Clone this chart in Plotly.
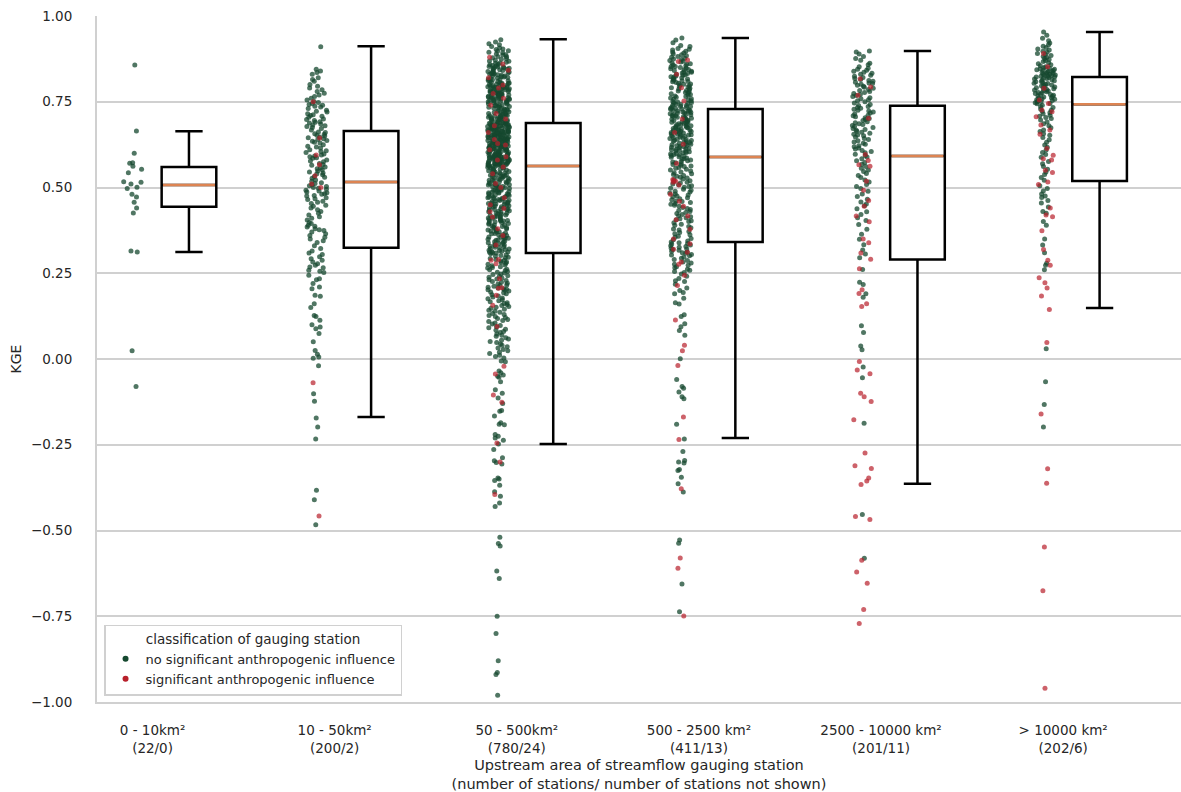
import plotly.graph_objects as go

# ---------------- data ----------------
AREA_LABELS = ["0 - 10km²", "10 - 50km²", "50 - 500km²", "500 - 2500 km²", "2500 - 10000 km²", "> 10000 km²"]
N_STATIONS = [22, 200, 780, 411, 201, 202]
N_NOT_SHOWN = [0, 2, 24, 13, 11, 6]

Y_TICKS = [-1.0, -0.75, -0.5, -0.25, 0.0, 0.25, 0.5, 0.75, 1.0]

# box statistics
BOX_Q1 = [0.444, 0.324, 0.309, 0.341, 0.290, 0.519]
BOX_MEDIAN = [0.507, 0.516, 0.563, 0.589, 0.592, 0.743]
BOX_Q3 = [0.560, 0.665, 0.688, 0.729, 0.738, 0.822]
BOX_LOW = [0.312, -0.169, -0.248, -0.230, -0.364, 0.149]
BOX_HIGH = [0.664, 0.912, 0.932, 0.936, 0.898, 0.953]

# KGE of individual stations (no significant anthropogenic influence)
KGE_NO_1 = [0.857, 0.665, 0.600, 0.572, 0.571, 0.562, 0.553, 0.543, 0.517, 0.515, 0.510, 0.501,
            0.497, 0.480, 0.472, 0.457, 0.440, 0.426, 0.315, 0.312, 0.024, -0.080]

KGE_NO_2 = [0.910,
            0.845, 0.840, 0.835, 0.830, 0.820, 0.815, 0.810, 0.800,
            0.795, 0.790, 0.785, 0.780, 0.775, 0.770, 0.765, 0.760, 0.755, 0.751,
            0.748, 0.745, 0.742, 0.740, 0.737, 0.735, 0.730, 0.725, 0.722, 0.720, 0.715, 0.712, 0.710, 0.708, 0.705, 0.700,
            0.698, 0.695, 0.692, 0.690, 0.688, 0.685, 0.682, 0.680, 0.678, 0.675, 0.672, 0.668,
            0.662, 0.660, 0.657, 0.655, 0.652, 0.650, 0.647, 0.645, 0.642, 0.640, 0.637, 0.635, 0.632, 0.630, 0.625, 0.620,
            0.618, 0.615, 0.610, 0.607, 0.605, 0.602,
            0.598, 0.595, 0.592, 0.590, 0.587, 0.585, 0.580, 0.577, 0.575, 0.570, 0.567, 0.565, 0.560, 0.557, 0.555, 0.552,
            0.548, 0.545, 0.542, 0.540, 0.537, 0.532, 0.530, 0.527, 0.522, 0.518,
            0.514, 0.512, 0.508, 0.505, 0.503, 0.500, 0.498, 0.495, 0.492, 0.490, 0.487, 0.485, 0.482, 0.480, 0.477, 0.475,
            0.470, 0.467, 0.465, 0.460, 0.457, 0.453,
            0.448, 0.445, 0.440, 0.435, 0.430, 0.425, 0.420, 0.415, 0.410, 0.405,
            0.398, 0.395, 0.390, 0.387, 0.385, 0.380, 0.377, 0.375, 0.370, 0.365, 0.360, 0.355, 0.350, 0.345, 0.340, 0.330,
            0.322, 0.315, 0.309, 0.305, 0.298, 0.292, 0.288, 0.283, 0.278, 0.273, 0.268, 0.266, 0.259, 0.256, 0.252,
            0.244, 0.234, 0.231, 0.220, 0.210, 0.205,
            0.186, 0.183, 0.161, 0.150, 0.127, 0.124, 0.113, 0.100,
            0.093, 0.088, 0.074, 0.050, 0.025, 0.014, 0.006, 0.002,
            -0.020, -0.101, -0.123, -0.172, -0.198, -0.233, -0.383, -0.410, -0.483]

KGE_NO_3 = [0.931, 0.924, 0.919, 0.916, 0.911, 0.907, 0.904, 0.902,
            0.899, 0.897, 0.894, 0.893, 0.889, 0.887, 0.886, 0.882, 0.881, 0.878, 0.876, 0.874, 0.871, 0.869, 0.868,
            0.865, 0.863, 0.862, 0.859, 0.858, 0.856, 0.855, 0.853, 0.852, 0.851, 0.850,
            0.849, 0.848, 0.847, 0.845, 0.844, 0.843, 0.841, 0.840, 0.838, 0.837, 0.836, 0.834, 0.833, 0.831, 0.830,
            0.829, 0.827, 0.826, 0.825, 0.823, 0.822, 0.821, 0.819, 0.818, 0.816, 0.815, 0.814, 0.812, 0.811, 0.810,
            0.809, 0.807, 0.806, 0.805, 0.804, 0.803, 0.802, 0.801, 0.800, 0.832,
            0.799, 0.798, 0.797, 0.796, 0.795, 0.794, 0.793, 0.792, 0.791, 0.790, 0.789, 0.788, 0.787, 0.786, 0.785,
            0.784, 0.783, 0.782, 0.781, 0.780, 0.779, 0.778, 0.777, 0.776, 0.775, 0.774, 0.773, 0.772, 0.771, 0.770,
            0.769, 0.768, 0.767, 0.766, 0.765, 0.764, 0.763, 0.762, 0.761, 0.760, 0.759, 0.758, 0.757, 0.756, 0.755,
            0.754, 0.753, 0.752, 0.751, 0.750, 0.792, 0.781, 0.774, 0.767, 0.758,
            0.749, 0.748, 0.746, 0.745, 0.744, 0.743, 0.741, 0.740, 0.739, 0.738, 0.736, 0.735, 0.734, 0.733, 0.731,
            0.730, 0.729, 0.728, 0.727, 0.725, 0.724, 0.723, 0.722, 0.721, 0.719, 0.718, 0.717, 0.716, 0.715, 0.714,
            0.712, 0.711, 0.710, 0.709, 0.708, 0.707, 0.706, 0.705, 0.704, 0.703, 0.702, 0.701, 0.700, 0.699, 0.698,
            0.697, 0.696, 0.695, 0.694, 0.693, 0.692, 0.691, 0.690, 0.689, 0.688,
            0.687, 0.687, 0.686, 0.685, 0.685, 0.684, 0.683, 0.683, 0.682, 0.681, 0.680, 0.680, 0.679, 0.678, 0.677,
            0.677, 0.676, 0.675, 0.674, 0.674, 0.673, 0.672, 0.671, 0.671, 0.670, 0.669, 0.668, 0.668, 0.667, 0.666,
            0.665, 0.665, 0.664, 0.663, 0.662, 0.662, 0.661, 0.660, 0.659, 0.659, 0.658, 0.657, 0.656, 0.656, 0.655,
            0.654, 0.653, 0.653, 0.652, 0.651, 0.650, 0.650, 0.669, 0.676, 0.681, 0.663, 0.658, 0.654, 0.672, 0.684,
            0.649, 0.648, 0.648, 0.647, 0.646, 0.645, 0.645, 0.644, 0.643, 0.642, 0.642, 0.641, 0.640, 0.639, 0.639,
            0.638, 0.637, 0.636, 0.636, 0.635, 0.634, 0.633, 0.633, 0.632, 0.631, 0.630, 0.630, 0.629, 0.628, 0.627,
            0.627, 0.626, 0.625, 0.624, 0.624, 0.623, 0.622, 0.621, 0.621, 0.620, 0.619, 0.618, 0.618, 0.617, 0.616,
            0.615, 0.615, 0.614, 0.613, 0.612, 0.612, 0.611, 0.610, 0.609, 0.609, 0.608, 0.607, 0.606, 0.606, 0.605,
            0.604, 0.603, 0.603, 0.602, 0.601, 0.600, 0.600, 0.617, 0.628, 0.637, 0.611, 0.644,
            0.599, 0.598, 0.598, 0.597, 0.596, 0.596, 0.595, 0.594, 0.594, 0.593, 0.592, 0.592, 0.591, 0.590, 0.590,
            0.589, 0.588, 0.588, 0.587, 0.586, 0.586, 0.585, 0.584, 0.584, 0.583, 0.582, 0.582, 0.581, 0.580, 0.580,
            0.579, 0.578, 0.578, 0.577, 0.576, 0.576, 0.575, 0.574, 0.574, 0.573, 0.572, 0.572, 0.571, 0.570, 0.570,
            0.569, 0.568, 0.568, 0.567, 0.566, 0.566, 0.565, 0.564, 0.564, 0.563,
            0.562, 0.561, 0.559, 0.558, 0.557, 0.556, 0.554, 0.553, 0.552, 0.551, 0.549, 0.548, 0.547, 0.546, 0.544,
            0.543, 0.542, 0.541, 0.539, 0.538, 0.537, 0.536, 0.534, 0.533, 0.532, 0.531, 0.529, 0.528, 0.527, 0.526,
            0.524, 0.523, 0.522, 0.521, 0.519, 0.518, 0.517, 0.516, 0.514, 0.513, 0.512, 0.511, 0.509, 0.508, 0.507,
            0.506, 0.504, 0.503, 0.502, 0.501,
            0.499, 0.497, 0.496, 0.495, 0.493, 0.492, 0.491, 0.489, 0.488, 0.487, 0.485, 0.484, 0.482, 0.481, 0.480,
            0.478, 0.477, 0.476, 0.474, 0.473, 0.472, 0.470, 0.469, 0.467, 0.466, 0.465, 0.463, 0.462, 0.461, 0.459,
            0.458, 0.457, 0.455, 0.454, 0.453, 0.452, 0.451, 0.450, 0.486, 0.471,
            0.449, 0.447, 0.446, 0.444, 0.443, 0.441, 0.440, 0.438, 0.437, 0.435, 0.434, 0.432, 0.431, 0.429, 0.428,
            0.426, 0.425, 0.423, 0.422, 0.420, 0.419, 0.417, 0.416, 0.414, 0.413, 0.411, 0.410, 0.408, 0.407, 0.405,
            0.404, 0.403, 0.402, 0.401, 0.400, 0.436,
            0.398, 0.396, 0.395, 0.393, 0.391, 0.390, 0.388, 0.386, 0.385, 0.383, 0.381, 0.380, 0.378, 0.376, 0.375,
            0.373, 0.371, 0.370, 0.368, 0.366, 0.365, 0.363, 0.361, 0.360, 0.358, 0.356, 0.355, 0.353, 0.352, 0.351,
            0.349, 0.347, 0.346, 0.344, 0.342, 0.341, 0.339, 0.337, 0.336, 0.334, 0.332, 0.331, 0.329, 0.327, 0.326,
            0.324, 0.322, 0.321, 0.319, 0.317, 0.316, 0.314, 0.313, 0.312, 0.311, 0.310, 0.309,
            0.307, 0.304, 0.302, 0.300, 0.297, 0.295, 0.293, 0.290, 0.288, 0.286, 0.283, 0.281, 0.279, 0.276, 0.274,
            0.272, 0.269, 0.267, 0.265, 0.262, 0.260, 0.258, 0.255, 0.253, 0.251,
            0.248, 0.246, 0.243, 0.241, 0.238, 0.236, 0.233, 0.231, 0.229, 0.226, 0.224, 0.221, 0.219, 0.216, 0.214,
            0.212, 0.209, 0.207, 0.205, 0.203, 0.202, 0.201,
            0.198, 0.195, 0.193, 0.190, 0.187, 0.184, 0.181, 0.178, 0.176, 0.173, 0.170, 0.167, 0.164, 0.162, 0.159,
            0.156, 0.153, 0.151,
            0.148, 0.145, 0.142, 0.139, 0.136, 0.133, 0.130, 0.127, 0.124, 0.121, 0.118, 0.115, 0.112, 0.109, 0.105, 0.102,
            0.098, 0.094, 0.091, 0.087, 0.084, 0.080, 0.077, 0.073, 0.069, 0.066, 0.062, 0.058, 0.055, 0.051,
            0.048, 0.044, 0.040, 0.036, 0.032, 0.028, 0.024, 0.020, 0.016, 0.011, 0.007, 0.003,
            -0.006, -0.008, -0.035, -0.040, -0.047, -0.050, -0.053, -0.066, -0.090, -0.100, -0.114, -0.130, -0.150,
            -0.152, -0.166, -0.186, -0.190, -0.192, -0.220, -0.225, -0.230, -0.237, -0.248, -0.264, -0.288, -0.297,
            -0.302, -0.306, -0.347, -0.350, -0.354, -0.368, -0.387, -0.400, -0.420, -0.430, -0.520, -0.538, -0.545,
            -0.618, -0.640, -0.750, -0.800, -0.880, -0.914, -0.920, -0.980]

KGE_NO_4 = [0.936, 0.930, 0.922, 0.914, 0.911, 0.905, 0.903, 0.901,
            0.897, 0.894, 0.892, 0.889, 0.887, 0.884, 0.882, 0.880, 0.877, 0.875, 0.873, 0.870, 0.868, 0.866, 0.863,
            0.861, 0.859, 0.857, 0.855, 0.853, 0.852, 0.850,
            0.848, 0.846, 0.844, 0.843, 0.841, 0.839, 0.837, 0.836, 0.834, 0.832, 0.830, 0.829, 0.827, 0.825, 0.823,
            0.822, 0.820, 0.818, 0.816, 0.815, 0.813, 0.811, 0.809, 0.808, 0.806, 0.804, 0.802, 0.801,
            0.799, 0.797, 0.795, 0.793, 0.791, 0.789, 0.787, 0.785, 0.783, 0.781, 0.779, 0.777, 0.775, 0.773, 0.771,
            0.769, 0.767, 0.765, 0.763, 0.761, 0.759, 0.757, 0.755, 0.753, 0.751,
            0.749, 0.748, 0.746, 0.745, 0.743, 0.742, 0.740, 0.739, 0.737, 0.736, 0.734, 0.733, 0.731, 0.730, 0.729,
            0.728, 0.727, 0.725, 0.724, 0.723, 0.722, 0.720, 0.719, 0.718, 0.717, 0.715, 0.714, 0.713, 0.712, 0.710,
            0.709, 0.708, 0.706, 0.705, 0.704, 0.702, 0.701,
            0.699, 0.698, 0.696, 0.695, 0.694, 0.692, 0.691, 0.690, 0.688, 0.687, 0.686, 0.684, 0.683, 0.682, 0.680,
            0.679, 0.678, 0.676, 0.675, 0.674, 0.672, 0.671, 0.670, 0.668, 0.667, 0.666, 0.664, 0.663, 0.662, 0.660,
            0.659, 0.658, 0.656, 0.655, 0.654, 0.653, 0.652, 0.651,
            0.649, 0.647, 0.646, 0.644, 0.643, 0.641, 0.640, 0.638, 0.637, 0.635, 0.634, 0.632, 0.631, 0.629, 0.628,
            0.626, 0.625, 0.623, 0.622, 0.620, 0.619, 0.617, 0.616, 0.614, 0.613, 0.611, 0.610, 0.608, 0.607, 0.605,
            0.604, 0.602, 0.601, 0.599, 0.598, 0.596, 0.595, 0.593, 0.591, 0.590,
            0.588, 0.586, 0.584, 0.582, 0.580, 0.578, 0.576, 0.574, 0.572, 0.569, 0.567, 0.565, 0.563, 0.561, 0.558,
            0.556, 0.553, 0.551,
            0.548, 0.545, 0.543, 0.540, 0.538, 0.535, 0.533, 0.530, 0.528, 0.525, 0.523, 0.520, 0.518, 0.515, 0.513,
            0.510, 0.508, 0.505, 0.503, 0.501,
            0.498, 0.495, 0.492, 0.489, 0.487, 0.484, 0.481, 0.478, 0.475, 0.473, 0.470, 0.467, 0.464, 0.461, 0.459,
            0.456, 0.453, 0.451,
            0.448, 0.445, 0.442, 0.439, 0.436, 0.433, 0.430, 0.427, 0.424, 0.421, 0.418, 0.415, 0.412, 0.409, 0.406,
            0.403, 0.401,
            0.397, 0.393, 0.390, 0.386, 0.383, 0.379, 0.376, 0.372, 0.369, 0.365, 0.362, 0.358, 0.355, 0.351, 0.348,
            0.344, 0.341,
            0.339, 0.337, 0.335, 0.332, 0.330, 0.328, 0.326, 0.323, 0.321, 0.319, 0.317, 0.314, 0.312, 0.310, 0.308,
            0.305, 0.303, 0.301,
            0.297, 0.294, 0.290, 0.287, 0.283, 0.280, 0.276, 0.273, 0.269, 0.266, 0.262, 0.259, 0.255, 0.252,
            0.248, 0.241, 0.235, 0.226, 0.218, 0.207,
            0.228, 0.200, 0.194, 0.190, 0.177, 0.164, 0.160, 0.129, 0.124, 0.103, 0.094, 0.083, 0.069, 0.001,
            -0.060, -0.080, -0.085, -0.096, -0.110, -0.116, -0.190, -0.233, -0.270, -0.296, -0.300, -0.303,
            -0.322, -0.325, -0.345, -0.364, -0.388, -0.528, -0.537, -0.656, -0.737]

KGE_NO_5 = [0.898, 0.895, 0.889, 0.882, 0.876, 0.871, 0.862, 0.858, 0.852,
            0.848, 0.845, 0.842, 0.839, 0.836, 0.833, 0.830, 0.827, 0.824, 0.821, 0.818, 0.815, 0.812, 0.810, 0.807,
            0.805, 0.803, 0.801,
            0.798, 0.795, 0.792, 0.789, 0.786, 0.783, 0.780, 0.777, 0.774, 0.771, 0.768, 0.765, 0.762, 0.759, 0.756,
            0.753, 0.750, 0.746, 0.742, 0.739,
            0.736, 0.733, 0.731, 0.728, 0.725, 0.723, 0.720, 0.717, 0.714, 0.711, 0.709, 0.706, 0.703, 0.701,
            0.698, 0.695, 0.692, 0.689, 0.686, 0.684, 0.681, 0.678, 0.675, 0.672, 0.669, 0.667, 0.664, 0.661, 0.658,
            0.655, 0.653, 0.651,
            0.647, 0.643, 0.640, 0.636, 0.633, 0.629, 0.626, 0.622, 0.619, 0.615, 0.612, 0.608, 0.605, 0.601, 0.597, 0.593,
            0.589, 0.584, 0.578, 0.573, 0.568, 0.561, 0.556, 0.551,
            0.547, 0.541, 0.535, 0.529, 0.522, 0.516, 0.509, 0.503,
            0.497, 0.489, 0.481, 0.474, 0.466, 0.458, 0.452,
            0.447, 0.438, 0.429, 0.421, 0.412, 0.404,
            0.392, 0.378, 0.364, 0.349, 0.333, 0.318, 0.306, 0.295,
            0.261, 0.224, 0.217, 0.190, 0.180, 0.097, 0.077, 0.038, 0.027, -0.023, -0.055, -0.187, -0.453, -0.581]

KGE_NO_6 = [0.953, 0.944, 0.935, 0.928, 0.921, 0.916, 0.912, 0.908, 0.904, 0.901,
            0.897, 0.894, 0.891, 0.888, 0.885, 0.882, 0.879, 0.876, 0.873, 0.870, 0.867, 0.864, 0.861, 0.858, 0.855, 0.852,
            0.849, 0.848, 0.846, 0.845, 0.843, 0.842, 0.841, 0.839, 0.838, 0.836, 0.835, 0.834, 0.832, 0.831, 0.830,
            0.828, 0.827, 0.826, 0.825, 0.824, 0.823, 0.822,
            0.821, 0.819, 0.818, 0.816, 0.814, 0.813, 0.811, 0.809, 0.808, 0.806, 0.804, 0.803, 0.801, 0.799, 0.798,
            0.796, 0.794, 0.793, 0.791, 0.789, 0.788, 0.786, 0.784, 0.782, 0.781,
            0.779, 0.777, 0.776, 0.774, 0.772, 0.771, 0.769, 0.767, 0.766, 0.764, 0.762, 0.761, 0.759, 0.757, 0.756,
            0.754, 0.752, 0.751, 0.749, 0.747, 0.745, 0.744,
            0.740, 0.736, 0.733, 0.729, 0.725, 0.722, 0.718, 0.715, 0.711, 0.708, 0.704, 0.701,
            0.697, 0.691, 0.686, 0.680, 0.674, 0.668, 0.663, 0.657, 0.652,
            0.646, 0.639, 0.632, 0.624, 0.617, 0.609, 0.602,
            0.596, 0.588, 0.576, 0.569, 0.561, 0.553, 0.545, 0.538, 0.529, 0.521,
            0.505, 0.497, 0.490, 0.481, 0.475, 0.471, 0.462, 0.455, 0.443, 0.430, 0.425, 0.401, 0.390, 0.350,
            0.332, 0.310, 0.279, 0.273, 0.260, 0.030, -0.066, -0.133, -0.198]

# KGE of individual stations (significant anthropogenic influence)
KGE_SIG_1 = []
KGE_SIG_2 = [0.750, 0.644, 0.595, 0.566, 0.534, 0.510, 0.500, -0.069, -0.458]
KGE_SIG_3 = [0.880, 0.860, 0.842, 0.820, 0.799, 0.790, 0.774, 0.760, 0.740, 0.716, 0.700, 0.680, 0.660,
             0.640, 0.628, 0.624, 0.610, 0.590, 0.580, 0.560, 0.540, 0.512, 0.500, 0.470, 0.450, 0.439,
             0.429, 0.414, 0.380, 0.360, 0.332, 0.290, 0.288, 0.278, 0.234, 0.208, 0.206, 0.186, 0.157,
             0.095, -0.021, -0.044, -0.105, -0.126, -0.245, -0.300, -0.395]
KGE_SIG_4 = [0.872, 0.867, 0.830, 0.791, 0.752, 0.700, 0.660, 0.626, 0.570, 0.523, 0.520, 0.518, 0.515,
             0.507, 0.480, 0.460, 0.445, 0.417, 0.406, 0.378, 0.350, 0.336, 0.320, 0.311, 0.283, 0.276,
             0.244, 0.214, 0.114, 0.040, 0.024, -0.019, -0.169, -0.235, -0.378, -0.580, -0.610, -0.749]
KGE_SIG_5 = [0.817, 0.793, 0.769, 0.702, 0.596, 0.579, 0.566, 0.562, 0.518, 0.492, 0.462, 0.445, 0.417,
             0.400, 0.350, 0.339, 0.309, 0.291, 0.263, 0.202, 0.191, 0.161, 0.153, -0.007, -0.032, -0.043,
             -0.100, -0.110, -0.124, -0.177, -0.274, -0.311, -0.319, -0.347, -0.356, -0.366, -0.459, -0.468,
             -0.587, -0.621, -0.654, -0.730, -0.771]
KGE_SIG_6 = [0.891, 0.852, 0.789, 0.755, 0.745, 0.726, 0.721, 0.706, 0.682, 0.668, 0.655, 0.614, 0.594,
             0.584, 0.580, 0.550, 0.544, 0.516, 0.509, 0.440, 0.420, 0.415, 0.374, 0.319, 0.288, 0.273,
             0.237, 0.222, 0.207, 0.184, 0.144, 0.048, -0.160, -0.320, -0.362, -0.548, -0.676, -0.960]

KGE_NO = [KGE_NO_1, KGE_NO_2, KGE_NO_3, KGE_NO_4, KGE_NO_5, KGE_NO_6]
KGE_SIG = [KGE_SIG_1, KGE_SIG_2, KGE_SIG_3, KGE_SIG_4, KGE_SIG_5, KGE_SIG_6]

LEGEND_TITLE = "classification of gauging station"
NAME_NO = "no significant anthropogenic influence"
NAME_SIG = "significant anthropogenic influence"

# ---------------- style ----------------
GREEN = "#15482f"
RED = "#b8202b"
ORANGE = "#dd8452"
GRID = "#d0d0d0"
TEXT = "#262626"
FONT = "DejaVu Sans"
STRIP_OFFSET = -0.1
BOX_OFFSET = 0.2

fig = go.Figure()


def strip_trace(groups, color, opacity):
    xs, ys = [], []
    for i, vals in enumerate(groups):
        xs += [i + STRIP_OFFSET] * len(vals)
        ys += list(vals)
    return go.Box(
        x=xs, y=ys, boxpoints="all", jitter=1.0, pointpos=0, width=0.12,
        fillcolor="rgba(0,0,0,0)", line=dict(width=0, color="rgba(0,0,0,0)"),
        marker=dict(color=color, size=5, opacity=opacity, line=dict(width=0)),
        showlegend=False, hoverinfo="y",
    )


fig.add_trace(strip_trace(KGE_NO, GREEN, 0.75))
fig.add_trace(strip_trace(KGE_SIG, RED, 0.7))

box_x = [i + BOX_OFFSET for i in range(len(AREA_LABELS))]
fig.add_trace(go.Box(
    x=box_x, q1=BOX_Q1, median=BOX_MEDIAN, q3=BOX_Q3,
    lowerfence=BOX_LOW, upperfence=BOX_HIGH,
    width=0.3, whiskerwidth=0.5, boxpoints=False,
    fillcolor="white", line=dict(color="black", width=2.5),
    showlegend=False,
))
# orange median line on top
fig.add_trace(go.Box(
    x=box_x, q1=BOX_MEDIAN, median=BOX_MEDIAN, q3=BOX_MEDIAN,
    lowerfence=BOX_MEDIAN, upperfence=BOX_MEDIAN,
    width=0.285, whiskerwidth=0, boxpoints=False,
    fillcolor="rgba(0,0,0,0)", line=dict(color=ORANGE, width=2.5),
    showlegend=False, hoverinfo="skip",
))

# legend entries
fig.add_trace(go.Scatter(x=[None], y=[None], mode="markers", name=NAME_NO,
                         marker=dict(color=GREEN, size=6)))
fig.add_trace(go.Scatter(x=[None], y=[None], mode="markers", name=NAME_SIG,
                         marker=dict(color=RED, size=6)))

tick_text = [f"{a}<br>({n}/{m})" for a, n, m in zip(AREA_LABELS, N_STATIONS, N_NOT_SHOWN)]
y_tick_text = [f"{v:.2f}".replace("-", "\u2212") for v in Y_TICKS]

fig.update_layout(
    width=1181, height=792,
    margin=dict(l=97, r=0, t=16, b=90),
    paper_bgcolor="white", plot_bgcolor="white",
    font=dict(family=FONT, size=13, color=TEXT),
    boxmode="overlay",
    xaxis=dict(
        range=[-0.305, 5.647], tickmode="array", automargin=False,
        tickvals=list(range(len(AREA_LABELS))), ticktext=tick_text,
        showgrid=False, zeroline=False, showline=True, linecolor=GRID, linewidth=2,
        ticks="", ticklabelstandoff=15, tickfont=dict(size=13.5, color=TEXT),
        title=dict(text="Upstream area of streamflow gauging station<br>(number of stations/ number of stations not shown)",
                   font=dict(size=14.5, color=TEXT), standoff=12),
    ),
    yaxis=dict(
        range=[-1.0, 1.0], tickmode="array", tickvals=Y_TICKS, ticktext=y_tick_text, automargin=False,
        showgrid=True, gridcolor=GRID, gridwidth=2, zeroline=False,
        showline=True, linecolor=GRID, linewidth=2,
        ticks="", ticklabelstandoff=20, tickfont=dict(size=13.5, color=TEXT),
        title=dict(text="KGE", font=dict(size=14, color=TEXT), standoff=6),
    ),
    legend=dict(
        x=0.0065, y=0.009, xanchor="left", yanchor="bottom",
        bgcolor="white", bordercolor=GRID, borderwidth=1.5,
        font=dict(size=13, color=TEXT),
        title=dict(text=LEGEND_TITLE, side="top center", font=dict(size=13.5, color=TEXT)),
        tracegroupgap=0,
    ),
)

fig.write_html("out.html")
